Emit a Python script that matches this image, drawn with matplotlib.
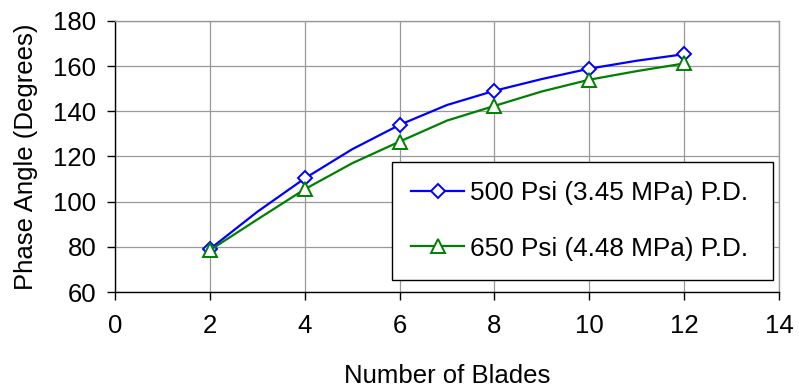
import matplotlib
matplotlib.use("Agg")
import matplotlib.pyplot as plt

# Phase angle versus blade count for two pressure differentials
blades = [2, 3, 4, 5, 6, 7, 8, 9, 10, 11, 12]
phase_500 = [79.0, 95.5, 110.3, 123.2, 134.0, 142.8, 149.1, 154.3, 158.9, 162.4, 165.3]
phase_650 = [78.5, 92.1, 105.5, 117.0, 126.6, 135.9, 142.4, 148.8, 154.0, 157.8, 161.2]
label_500 = "500 Psi (3.45 MPa) P.D."
label_650 = "650 Psi (4.48 MPa) P.D."
x_ticks = [0, 2, 4, 6, 8, 10, 12, 14]
y_ticks = [60, 80, 100, 120, 140, 160, 180]

plt.rcParams["font.family"] = ["Liberation Sans", "DejaVu Sans"]
FS = 18.5

fig = plt.figure(figsize=(7.99, 3.88), dpi=100)
ax = fig.add_axes([0.1439, 0.2474, 0.8311, 0.6985])

ax.plot(blades, phase_500, color="#0000FF", lw=1.6, marker="D", markersize=7.5,
        markerfacecolor="white", markeredgecolor="#0000FF", markeredgewidth=1.4,
        markevery=2, label=label_500, zorder=3)
ax.plot(blades, phase_650, color="#008000", lw=1.6, marker="^", markersize=10,
        markerfacecolor="white", markeredgecolor="#008000", markeredgewidth=1.4,
        markevery=2, label=label_650, zorder=3)

ax.set_xlim(0, 14)
ax.set_ylim(60, 180)
ax.set_xticks(x_ticks)
ax.set_yticks(y_ticks)
ax.grid(True, color="#999999", lw=0.9)
ax.set_axisbelow(True)

for side in ("top", "right"):
    ax.spines[side].set_color("#999999")
    ax.spines[side].set_linewidth(1.0)
for side in ("left", "bottom"):
    ax.spines[side].set_color("black")
    ax.spines[side].set_linewidth(1.0)

ax.tick_params(axis="both", direction="out", length=5.5, width=1.0,
               labelsize=FS, colors="black")
ax.tick_params(axis="y", pad=8)
ax.tick_params(axis="x", pad=10)

ax.set_xlabel("Number of Blades", fontsize=FS, labelpad=19)
ax.set_ylabel("Phase Angle (Degrees)", fontsize=FS, labelpad=11)

leg = ax.legend(loc="lower left", bbox_to_anchor=(0.417, 0.044, 0.574, 0.436),
                mode="expand", fontsize=18.8, frameon=True, fancybox=False,
                edgecolor="black", framealpha=1.0, borderpad=0.75,
                labelspacing=1.2, handlelength=2.0, handletextpad=0.25,
                borderaxespad=0.0)
leg.get_frame().set_linewidth(1.0)

fig.savefig("out.png", dpi=100)
